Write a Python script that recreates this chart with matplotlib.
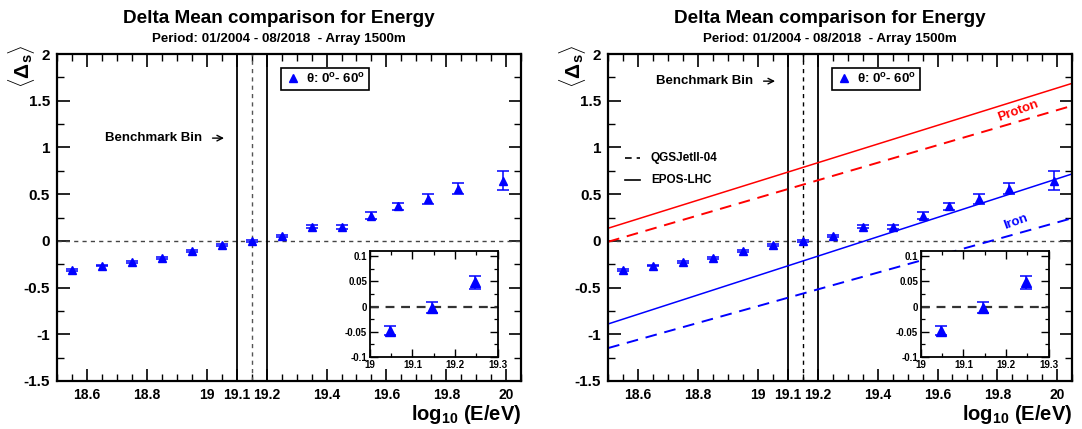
import matplotlib; matplotlib.use('Agg')
import matplotlib.pyplot as plt
from matplotlib.lines import Line2D
from matplotlib.ticker import MultipleLocator, FixedLocator

plt.rcParams.update({
    'font.family': 'Liberation Sans', 'font.weight': 'bold',
    'mathtext.fontset': 'custom', 'mathtext.rm': 'Liberation Sans:bold',
    'mathtext.it': 'Liberation Sans:bold', 'mathtext.bf': 'Liberation Sans:bold',
    'axes.linewidth': 1.6, 'xtick.direction': 'in', 'ytick.direction': 'in',
    'xtick.top': True, 'ytick.right': True,
})
BLUE, RED = '#0000ff', '#ff0000'

# ── data ─────────────────────────────────────────────────────────────────────
log_e = [18.55, 18.65, 18.75, 18.85, 18.95, 19.05, 19.15, 19.25,
         19.35, 19.45, 19.55, 19.64, 19.74, 19.84, 19.99]
delta = [-0.31, -0.264, -0.225, -0.182, -0.11, -0.047, -0.002, 0.049,
         0.153, 0.148, 0.27, 0.37, 0.45, 0.56, 0.645]
delta_err = [0.008, 0.008, 0.008, 0.009, 0.009, 0.009, 0.011, 0.013,
             0.02, 0.02, 0.035, 0.037, 0.055, 0.062, 0.098]

# inset: the three bins around the benchmark
ins_e = [19.048, 19.146, 19.247]
ins_d = [-0.048, -0.002, 0.048]
ins_err = [0.009, 0.011, 0.013]

# model predictions (straight lines): value at 18.5 and at 20.05
line_x = [18.5, 20.05]
proton_epos = [0.135, 1.687]
proton_qgs = [-0.01, 1.447]
iron_epos = [-0.89, 0.717]
iron_qgs = [-1.148, 0.243]

xmajor = [18.6, 18.8, 19.0, 19.1, 19.2, 19.4, 19.6, 19.8, 20.0]
xlabels = ['18.6', '18.8', '19', '19.1', '19.2', '19.4', '19.6', '19.8', '20']
yticks = [-1.5, -1, -0.5, 0, 0.5, 1, 1.5, 2]
ylabels = ['-1.5', '-1', '-0.5', '0', '0.5', '1', '1.5', '2']

fig = plt.figure(figsize=(10.82, 4.29), dpi=100)


def panel(left, with_models):
    ax = fig.add_axes([left, 0.112, 0.429, 0.762])
    ax.set_xlim(18.5, 20.05)
    ax.set_ylim(-1.5, 2)
    ax.xaxis.set_major_locator(FixedLocator(xmajor))
    ax.set_xticklabels(xlabels)
    ax.xaxis.set_minor_locator(MultipleLocator(0.05))
    ax.set_yticks(yticks)
    ax.set_yticklabels(ylabels)
    ax.yaxis.set_minor_locator(MultipleLocator(0.25))
    ax.tick_params(which='major', length=9, width=1.2, labelsize=11, pad=5)
    ax.tick_params(axis='x', labelsize=10)
    ax.tick_params(which='minor', length=5, width=1.0)

    ax.axhline(0, color='#444444', ls=(0, (3, 3)), lw=1.0)
    ax.axvline(19.1, color='black', lw=1.3)
    ax.axvline(19.2, color='black', lw=1.3)
    ax.axvline(19.15, color='#555555' if not with_models else 'black',
               ls=(0, (3, 3)), lw=1.0)

    if with_models:
        ax.plot(line_x, proton_epos, color=RED, lw=1.1)
        ax.plot(line_x, proton_qgs, color=RED, lw=1.4, ls=(0, (6, 4)))
        ax.plot(line_x, iron_epos, color=BLUE, lw=1.1)
        ax.plot(line_x, iron_qgs, color=BLUE, lw=1.4, ls=(0, (6, 4)))
        ax.text(19.87, 1.39, 'Proton', color=RED, fontsize=9.5,
                rotation=20, ha='center', va='center')
        ax.text(19.86, 0.2, 'Iron', color=BLUE, fontsize=9.5,
                rotation=20, ha='center', va='center')
        ax.plot([18.557, 18.607], [0.89, 0.89], color='black', lw=1.2, ls=(0, (4, 3)))
        ax.plot([18.557, 18.607], [0.65, 0.65], color='black', lw=1.2)
        ax.text(18.643, 0.89, 'QGSJetII-04', fontsize=8.5, va='center')
        ax.text(18.643, 0.65, 'EPOS-LHC', fontsize=8.5, va='center')
        by = 1.71
    else:
        by = 1.1
    ax.annotate('', xy=(19.067, by), xytext=(19.01, by),
                arrowprops=dict(arrowstyle='->', color='black', lw=1.0))
    ax.text(18.985, by, 'Benchmark Bin', fontsize=9.5, ha='right', va='center')

    ax.errorbar(log_e, delta, yerr=delta_err, fmt='^', color=BLUE, ms=5.5,
                ecolor=BLUE, elinewidth=1.1, capsize=4, capthick=1.1, zorder=5)
    handle = Line2D([], [], marker='^', ls='none', color=BLUE, ms=6)
    leg = ax.legend([handle], [r'$\theta$: 0$^{\rm o}$- 60$^{\rm o}$'],
                    loc='upper left', bbox_to_anchor=(0.482, 0.958),
                    fontsize=9.5, handletextpad=0.4, borderpad=0.3,
                    borderaxespad=0, fancybox=False, edgecolor='black',
                    framealpha=1, handlelength=1.2)
    leg.get_frame().set_linewidth(1.2)

    ax.set_ylabel(r'$\langle\Delta_{\rm s}\rangle$', fontsize=15, loc='top')
    ax.yaxis.set_label_coords(-0.044, 1.03)
    ax.set_xlabel(r'log$_{10}$ (E/eV)', fontsize=14.5, fontweight='bold',
                  loc='right', labelpad=1)

    # inset
    ins = ax.inset_axes([0.674, 0.073, 0.275, 0.324])
    ins.set_xlim(19, 19.3)
    ins.set_ylim(-0.1, 0.11)
    ins.set_xticks([19, 19.1, 19.2, 19.3])
    ins.set_xticklabels(['19', '19.1', '19.2', '19.3'])
    ins.set_yticks([-0.1, -0.05, 0, 0.05, 0.1])
    ins.set_yticklabels(['-0.1', '-0.05', '0', '0.05', '0.1'])
    ins.xaxis.set_minor_locator(MultipleLocator(0.05))
    ins.yaxis.set_minor_locator(MultipleLocator(0.025))
    ins.tick_params(which='major', length=6, width=1.0, labelsize=7, pad=2)
    ins.tick_params(which='minor', length=3, width=0.9)
    for s in ins.spines.values():
        s.set_linewidth(1.3)
    ins.axhline(0, color='#333333', ls=(0, (4, 3)), lw=1.6)
    ins.errorbar(ins_e, ins_d, yerr=ins_err, fmt='^', color=BLUE, ms=6.5,
                 ecolor=BLUE, elinewidth=1.1, capsize=4.5, capthick=1.1, zorder=5)
    return ax


for left, cx, models in [(0.0527, 0.258, False), (0.562, 0.767, True)]:
    panel(left, models)
    fig.text(cx, 0.958, 'Delta Mean comparison for Energy', fontsize=13.6,
             ha='center', va='center')
    fig.text(cx, 0.91, 'Period: 01/2004 - 08/2018  - Array 1500m', fontsize=9.6,
             ha='center', va='center')

fig.savefig('out.png', dpi=100)
